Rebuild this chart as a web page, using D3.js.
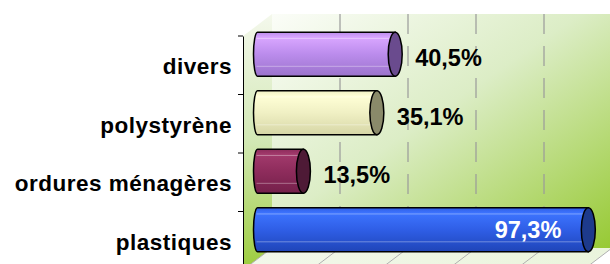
<!DOCTYPE html>
<html><head><meta charset="utf-8">
<script src="https://cdn.jsdelivr.net/npm/d3@7"></script>
<style>
html,body{margin:0;padding:0;background:#fff;}
svg{display:block;}
text{font-family:"Liberation Sans",Arial,sans-serif;font-weight:bold;}
</style></head>
<body>
<script>
const categories = ["divers", "polystyrène", "ordures ménagères", "plastiques"];
const values = [40.5, 35.1, 13.5, 97.3];
const valueLabels = ["40,5%", "35,1%", "13,5%", "97,3%"];
const gridTicks = [0, 20, 40, 60, 80, 100];
const bodyColors = [
  ["#d9a6ff", "#bb8cec", "#9b73cc"],
  ["#ffffd6", "#f0f0c4", "#d6d6a6"],
  ["#a23a6c", "#8e2c5c", "#74204a"],
  ["#3d74ff", "#2f5ee6", "#1f45b8"]
];
const capColors = ["#6a4b8e", "#8a8a6a", "#4e1a36", "#1d3a8c"];
const labelColors = ["#000", "#000", "#000", "#fff"];

const W = 610, H = 264;
const dx = 29, dy = -22;
const svg = d3.select("body").append("svg").attr("width", W).attr("height", H);
const defs = svg.append("defs");

const x = d3.scaleLinear().domain([0, 100]).range([243, 583]);
const y = d3.scaleBand().domain(categories).range([36, 270]).paddingInner(0).paddingOuter(0);

const gw = defs.append("linearGradient").attr("id", "wall")
  .attr("x1", "0").attr("y1", "0").attr("x2", "1").attr("y2", "1");
gw.append("stop").attr("offset", "0").attr("stop-color", "#fbfdf8");
gw.append("stop").attr("offset", "0.45").attr("stop-color", "#dcedc6");
gw.append("stop").attr("offset", "1").attr("stop-color", "#96c932");
const gs = defs.append("linearGradient").attr("id", "side")
  .attr("x1", "0").attr("y1", "0").attr("x2", "0").attr("y2", "1");
gs.append("stop").attr("offset", "0").attr("stop-color", "#f4f8ec");
gs.append("stop").attr("offset", "0.5").attr("stop-color", "#d2e8b4");
gs.append("stop").attr("offset", "1").attr("stop-color", "#9ccc3c");
const gf = defs.append("linearGradient").attr("id", "floor")
  .attr("x1", "0").attr("y1", "0").attr("x2", "1").attr("y2", "0");
gf.append("stop").attr("offset", "0").attr("stop-color", "#f2f8ea");
gf.append("stop").attr("offset", "1").attr("stop-color", "#eaf4dc");

bodyColors.forEach((c, i) => {
  const g = defs.append("linearGradient").attr("id", "bar" + i)
    .attr("x1", "0").attr("y1", "0").attr("x2", "0").attr("y2", "1");
  g.append("stop").attr("offset", "0").attr("stop-color", c[1]);
  g.append("stop").attr("offset", "0.12").attr("stop-color", c[0]);
  g.append("stop").attr("offset", "0.5").attr("stop-color", c[1]);
  g.append("stop").attr("offset", "1").attr("stop-color", c[2]);
});

const [r0, r1] = y.range();
svg.append("polygon")
  .attr("points", [[x(0) + dx, r0 + dy], [W + 5, r0 + dy], [W + 5, r1 + dy], [x(0) + dx, r1 + dy]].join(" "))
  .attr("fill", "url(#wall)");
svg.append("polygon")
  .attr("points", [[x(0), r0], [x(0) + dx, r0 + dy], [x(0) + dx, r1 + dy], [x(0), r1]].join(" "))
  .attr("fill", "url(#side)");
svg.append("polygon")
  .attr("points", [[x(0), r1], [x(0) + dx, r1 + dy], [x(100) + dx, r1 + dy], [x(100), r1]].join(" "))
  .attr("fill", "url(#floor)");

svg.append("g").selectAll("line").data(gridTicks.filter(t => t > 0)).join("line")
  .attr("x1", d => x(d) + dx).attr("x2", d => x(d) + dx)
  .attr("y1", r0 + dy).attr("y2", r1 + dy)
  .attr("stroke", "#9a9a9a").attr("stroke-width", 1.2).attr("stroke-dasharray", "20,12");
svg.append("g").selectAll("line").data(gridTicks).join("line")
  .attr("x1", d => x(d) + dx).attr("x2", d => x(d))
  .attr("y1", r1 + dy).attr("y2", r1)
  .attr("stroke", "#b0b0b0").attr("stroke-width", 1);

const bh = y.bandwidth() * 0.75;
const rxL = 4, rxR = 7;
const bars = svg.append("g").selectAll("g").data(categories).join("g");
bars.append("path")
  .attr("d", (c, i) => {
    const cy = y(c) + y.bandwidth() / 2 + dy / 2;
    const x0 = x(0) + dx / 2, x1 = x(values[i]) + dx / 2;
    const t = cy - bh / 2, b = cy + bh / 2;
    return `M${x0},${t}L${x1},${t}L${x1},${b}L${x0},${b}A${rxL},${bh / 2} 0 0 1 ${x0},${t}Z`;
  })
  .attr("fill", (c, i) => `url(#bar${i})`)
  .attr("stroke", "#000").attr("stroke-width", 1.5);
bars.each(function (c, i) {
  const cy = y(c) + y.bandwidth() / 2 + dy / 2;
  const x0 = x(0) + dx / 2, x1 = x(values[i]) + dx / 2;
  [-0.72, 0.55].forEach(f => {
    d3.select(this).append("line")
      .attr("x1", x0 - 1).attr("x2", x1)
      .attr("y1", cy + f * bh / 2).attr("y2", cy + f * bh / 2)
      .attr("stroke", "#ffffff").attr("stroke-opacity", 0.35).attr("stroke-width", 1);
  });
});
bars.append("ellipse")
  .attr("cx", (c, i) => x(values[i]) + dx / 2)
  .attr("cy", c => y(c) + y.bandwidth() / 2 + dy / 2)
  .attr("rx", rxR).attr("ry", bh / 2)
  .attr("fill", (c, i) => capColors[i])
  .attr("stroke", "#000").attr("stroke-width", 1.5);

svg.append("g").selectAll("text").data(categories).join("text")
  .attr("x", (c, i) => values[i] > 90 ? x(values[i]) + dx / 2 - 27 : x(values[i]) + dx / 2 + rxR + 13)
  .attr("y", (c, i) => y(c) + y.bandwidth() / 2 + dy / 2 + (values[i] > 90 ? 8 : 12))
  .attr("text-anchor", (c, i) => values[i] > 90 ? "end" : "start")
  .attr("font-size", 23.5)
  .attr("fill", (c, i) => labelColors[i])
  .text((c, i) => valueLabels[i]);

const axis = svg.append("g").attr("transform", `translate(${x(0)},0)`)
  .call(d3.axisLeft(y).tickSize(0).tickPadding(11));
axis.select(".domain").attr("stroke", "#000").attr("stroke-width", 1);
axis.selectAll(".tick text")
  .attr("font-size", 22.5).attr("letter-spacing", "0.5px")
  .attr("font-family", "'Liberation Sans', Arial, sans-serif")
  .attr("font-weight", "bold").attr("fill", "#000").attr("dy", "0.4em");
axis.append("g").selectAll("line").data(categories.map(c => y(c)).concat([r1])).join("line")
  .attr("x1", -5).attr("x2", 0).attr("y1", d => d).attr("y2", d => d)
  .attr("stroke", "#000").attr("stroke-width", 1);
</script>
</body></html>
